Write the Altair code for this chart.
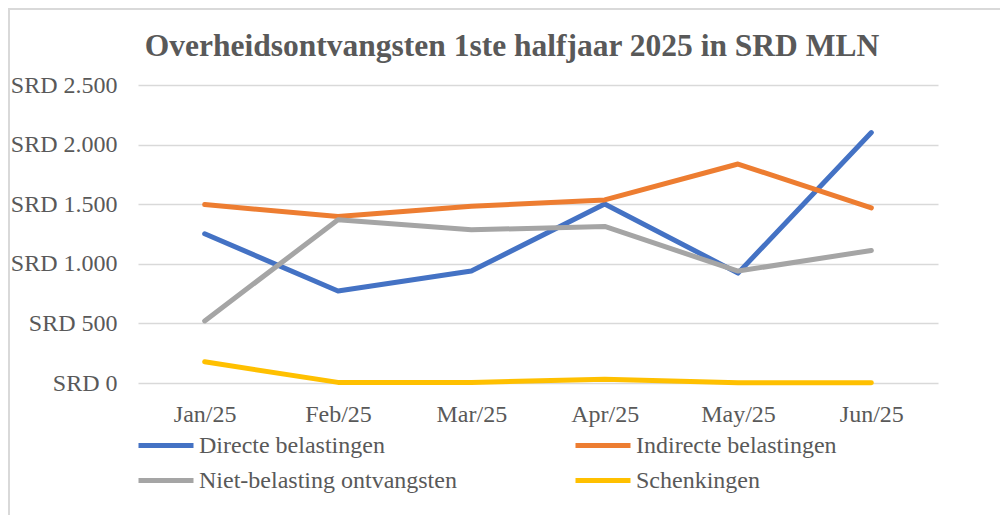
import altair as alt
import pandas as pd

months = ["Jan/25", "Feb/25", "Mar/25", "Apr/25", "May/25", "Jun/25"]
series = ["Directe belastingen", "Indirecte belastingen",
          "Niet-belasting ontvangsten", "Schenkingen"]
directe = [1252, 772, 939, 1502, 922, 2101]
indirecte = [1497, 1396, 1483, 1536, 1837, 1469]
niet_belasting = [521, 1369, 1285, 1313, 939, 1112]
schenkingen = [178, 5, 5, 31, 2, 3]
colors = ["#4472C4", "#ED7D31", "#A5A5A5", "#FFC000"]
y_ticks = [0, 500, 1000, 1500, 2000, 2500]

rows = []
for name, vals in zip(series, [directe, indirecte, niet_belasting, schenkingen]):
    for m, v in zip(months, vals):
        rows.append({"Maand": m, "Reeks": name, "Waarde": v})
df = pd.DataFrame(rows)

FONT = "Liberation Serif"
GREY = "#595959"

lines = alt.Chart(df).mark_line(strokeWidth=5, strokeCap="round", strokeJoin="round").encode(
    x=alt.X("Maand:N", sort=months, title=None,
            axis=alt.Axis(labelAngle=0, domain=False, ticks=False, grid=False,
                          labelFont=FONT, labelFontSize=24, labelColor=GREY,
                          labelPadding=19)),
    y=alt.Y("Waarde:Q", title=None,
            scale=alt.Scale(domain=[0, 2500], nice=False),
            axis=alt.Axis(values=y_ticks, domain=False, ticks=False,
                          gridColor="#D9D9D9", gridWidth=1.5,
                          labelFont=FONT, labelFontSize=24, labelColor=GREY,
                          labelPadding=21,
                          labelExpr="'SRD ' + replace(format(datum.value, ','), ',', '.')")),
    color=alt.Color("Reeks:N", sort=series, title=None,
                    scale=alt.Scale(domain=series, range=colors),
                    legend=alt.Legend(orient="none", legendX=-2, legendY=343,
                                      direction="horizontal", columns=2,
                                      symbolType="stroke", symbolSize=3025,
                                      symbolStrokeWidth=5, clipHeight=35,
                                      labelFont=FONT, labelFontSize=24,
                                      labelColor=GREY, labelOffset=3,
                                      labelLimit=400,
                                      columnPadding=116, rowPadding=0)),
)

border_left = alt.Chart(alt.Data(values=[{}])).mark_rule(color="#D9D9D9", strokeWidth=2).encode(
    x=alt.value(-129), y=alt.value(-77), y2=alt.value(440))
border_top = alt.Chart(alt.Data(values=[{}])).mark_rule(color="#D9D9D9", strokeWidth=2).encode(
    x=alt.value(-130), x2=alt.value(870), y=alt.value(-76))

chart = alt.layer(border_left, border_top, lines).properties(
    width=800, height=298,
    title=alt.TitleParams("Overheidsontvangsten 1ste halfjaar 2025 in SRD MLN",
                          font=FONT, fontSize=31.5, fontWeight="bold", color=GREY,
                          anchor="middle", dx=-26, offset=0, dy=55),
    autosize=alt.AutoSizeParams(type="none"),
    padding={"left": 130, "top": 77, "right": 62, "bottom": 132},
    background="white",
).configure_view(stroke=None)

chart.save("out.html", embed_options={"renderer": "svg", "actions": False})
